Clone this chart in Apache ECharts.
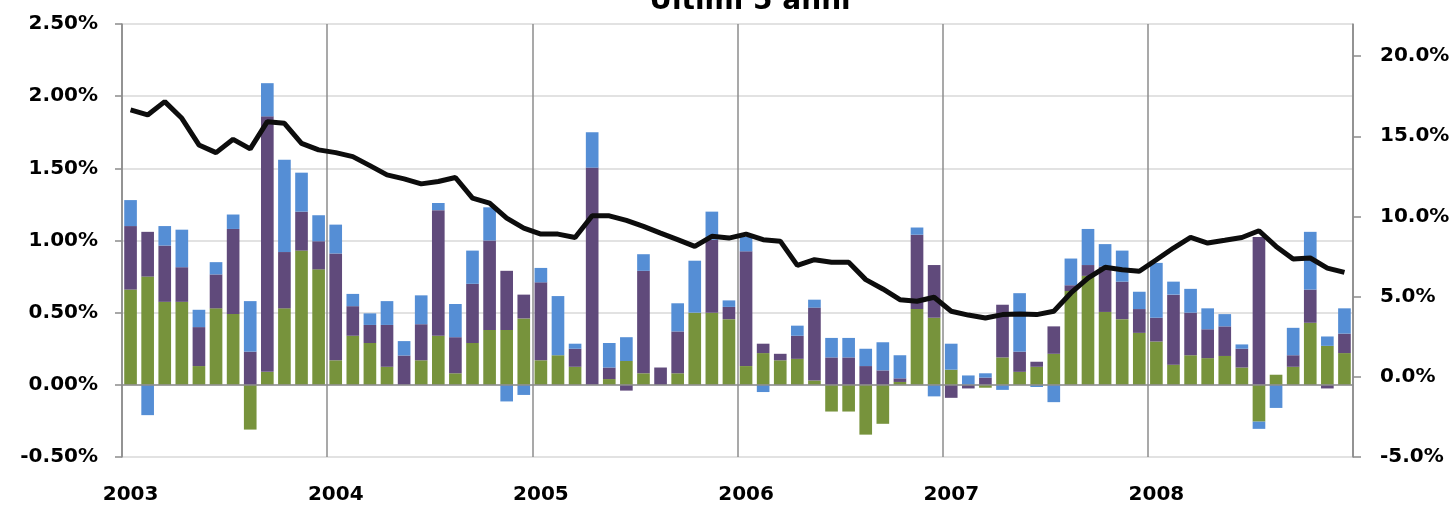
<!DOCTYPE html>
<html>
<head>
<meta charset="utf-8">
<script src="https://cdn.jsdelivr.net/npm/echarts@6/dist/echarts.min.js"></script>
<style>
  html, body { margin: 0; padding: 0; background: #fff; }
  #chart { width: 1454px; height: 510px; }
</style>
</head>
<body>
<div id="chart"></div>
<script>
// anni mostrati sull'asse x (12 mesi ciascuno)
const years = ["2003", "2004", "2005", "2006", "2007", "2008"];
const months = ["01", "02", "03", "04", "05", "06", "07", "08", "09", "10", "11", "12"];
const categories = [];
years.forEach((y) => months.forEach((m) => categories.push(y + "-" + m)));

// componenti mensili (%), impilate
const greenPart = [
  0.66, 0.75, 0.575, 0.575, 0.13, 0.53, 0.49, -0.31, 0.09, 0.53, 0.93, 0.80,
  0.17, 0.34, 0.29, 0.125, 0, 0.17, 0.34, 0.08, 0.29, 0.38, 0.38, 0.46,
  0.17, 0.205, 0.125, 0, 0.04, 0.165, 0.08, 0, 0.08, 0.50, 0.50, 0.455,
  0.13, 0.22, 0.17, 0.18, 0.03, -0.185, -0.185, -0.345, -0.27, 0.02, 0.525, 0.465,
  0.105, 0, -0.02, 0.19, 0.09, 0.125, 0.215, 0.65, 0.755, 0.505, 0.455, 0.36,
  0.30, 0.14, 0.205, 0.185, 0.20, 0.12, -0.255, 0.07, 0.125, 0.43, 0.27, 0.22,
];
const purplePart = [
  0.44, 0.31, 0.39, 0.24, 0.27, 0.235, 0.59, 0.23, 1.77, 0.39, 0.27, 0.195,
  0.74, 0.205, 0.125, 0.29, 0.203, 0.25, 0.87, 0.25, 0.41, 0.62, 0.41, 0.165,
  0.54, 0, 0.125, 1.505, 0.08, -0.04, 0.71, 0.12, 0.29, 0, 0.505, 0.085,
  0.795, 0.065, 0.045, 0.16, 0.505, 0.19, 0.19, 0.13, 0.10, 0.025, 0.515, 0.365,
  -0.09, -0.025, 0.05, 0.365, 0.14, 0.035, 0.19, 0.04, 0.075, 0.315, 0.26, 0.165,
  0.165, 0.485, 0.295, 0.20, 0.205, 0.13, 1.025, 0, 0.08, 0.23, -0.025, 0.135,
];
const bluePart = [
  0.18, -0.21, 0.135, 0.26, 0.12, 0.085, 0.10, 0.35, 0.23, 0.64, 0.27, 0.18,
  0.20, 0.085, 0.08, 0.165, 0.10, 0.20, 0.05, 0.23, 0.23, 0.23, -0.115, -0.07,
  0.10, 0.41, 0.035, 0.245, 0.17, 0.165, 0.115, 0, 0.195, 0.36, 0.195, 0.045,
  0.10, -0.05, 0, 0.07, 0.055, 0.135, 0.135, 0.12, 0.195, 0.16, 0.05, -0.08,
  0.18, 0.065, 0.03, -0.035, 0.405, -0.015, -0.12, 0.185, 0.25, 0.155, 0.215, 0.12,
  0.38, 0.09, 0.165, 0.145, 0.085, 0.03, -0.05, -0.16, 0.19, 0.40, 0.065, 0.175,
];
// linea (asse destro, %)
const lineValues = [
  16.64, 16.33, 17.16, 16.12, 14.46, 13.98, 14.81, 14.21, 15.91, 15.81, 14.56, 14.15,
  13.98, 13.73, 13.17, 12.59, 12.34, 12.03, 12.18, 12.43, 11.14, 10.83, 9.90, 9.27,
  8.90, 8.90, 8.69, 10.04, 10.04, 9.75, 9.38, 8.96, 8.55, 8.13, 8.76, 8.65,
  8.90, 8.55, 8.46, 6.95, 7.30, 7.14, 7.14, 6.06, 5.48, 4.81, 4.71, 4.96,
  4.09, 3.85, 3.67, 3.88, 3.92, 3.88, 4.09, 5.23, 6.16, 6.83, 6.68, 6.58,
  7.30, 8.03, 8.69, 8.34, 8.51, 8.69, 9.11, 8.13, 7.34, 7.41, 6.78, 6.51,
];
const leftTicks = [-0.5, 0, 0.5, 1, 1.5, 2, 2.5];
const rightTicks = [-5, 0, 5, 10, 15, 20];

const chart = echarts.init(document.getElementById("chart"));
const font = "DejaVu Sans";
const isYearStart = (i) => i % 12 === 0;

const barSeries = (name, data, color) => ({
  name,
  type: "bar",
  stack: "tot",
  data,
  barCategoryGap: "26%",
  itemStyle: { color },
});

const options = {
  animation: false,
  title: {
    text: "Ultimi 5 anni",
    left: 745,
    top: -17,
    textAlign: "center",
    textStyle: { fontFamily: font, fontWeight: "bold", fontSize: 28, color: "#000" },
  },
  grid: { left: 122, right: 101, top: 24, bottom: 53, containLabel: false },
  xAxis: {
    type: "category",
    data: categories,
    axisLine: { show: false },
    axisTick: { show: false },
    axisLabel: {
      interval: isYearStart,
      formatter: (v) => v.slice(0, 4),
      margin: 28,
      fontFamily: font,
      fontWeight: "bold",
      fontSize: 20,
      color: "#000",
    },
    splitLine: {
      show: true,
      interval: isYearStart,
      lineStyle: { color: "#8c8c8c", width: 1.5 },
    },
  },
  yAxis: [
    {
      type: "value",
      min: -0.5,
      max: 2.5,
      interval: 0.5,
      axisLine: { show: true, lineStyle: { color: "#8c8c8c", width: 1.5 } },
      axisTick: { show: true, length: 7, lineStyle: { color: "#8c8c8c", width: 1.5 } },
      axisLabel: {
        customValues: leftTicks,
        formatter: (v) => v.toFixed(2) + "%",
        margin: 24,
        fontFamily: font,
        fontWeight: "bold",
        fontSize: 20,
        color: "#000",
      },
      splitLine: { show: true, lineStyle: { color: "#d9d9d9", width: 1.5 } },
    },
    {
      type: "value",
      min: -5,
      max: 22,
      position: "right",
      axisLine: { show: true, lineStyle: { color: "#8c8c8c", width: 1.5 } },
      axisTick: { show: true, length: 8, customValues: rightTicks, lineStyle: { color: "#8c8c8c", width: 1.5 } },
      axisLabel: {
        customValues: rightTicks,
        formatter: (v) => v.toFixed(1) + "%",
        margin: 27,
        fontFamily: font,
        fontWeight: "bold",
        fontSize: 20,
        color: "#000",
      },
      splitLine: { show: false },
    },
  ],
  series: [
    {
      ...barSeries("A", greenPart, "#77933c"),
      markLine: {
        silent: true,
        symbol: "none",
        label: { show: false },
        lineStyle: { color: "#8c8c8c", width: 1.5, type: "solid" },
        data: [{ yAxis: 0 }],
      },
    },
    barSeries("B", purplePart, "#604a7b"),
    barSeries("C", bluePart, "#558ed5"),
    {
      name: "Linea",
      type: "line",
      yAxisIndex: 1,
      data: lineValues,
      showSymbol: false,
      symbol: "none",
      z: 5,
      lineStyle: { color: "#0d0d0d", width: 5 },
    },
  ],
};
chart.setOption(options);
</script>
</body>
</html>
